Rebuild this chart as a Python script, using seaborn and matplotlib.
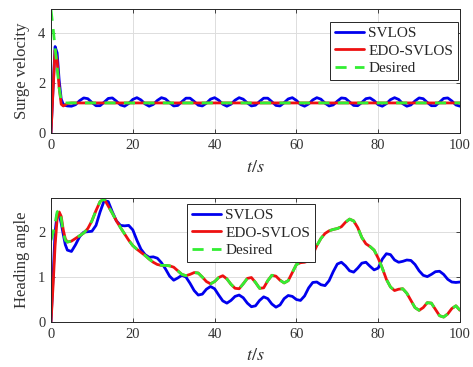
import numpy as np
import pandas as pd
import matplotlib
matplotlib.use("Agg")
import matplotlib.pyplot as plt
import seaborn as sns

# ---------------- data ----------------
t = [0, 0.5, 1, 1.5, 2, 2.5, 3, 3.5, 4] + list(range(5, 101))

# Surge velocity (top panel)
surge_svlos = [0.0, 1.8, 3.45, 3.2, 2.1, 1.35, 1.15, 1.1, 1.08,
               1.07, 1.13, 1.29, 1.40, 1.37, 1.22, 1.09, 1.09, 1.23, 1.38,
               1.40, 1.27, 1.12, 1.07, 1.18, 1.34, 1.41, 1.32, 1.16, 1.07,
               1.14, 1.30, 1.41, 1.36, 1.21, 1.08, 1.10, 1.25, 1.39, 1.39,
               1.26, 1.11, 1.08, 1.19, 1.35, 1.41, 1.31, 1.15, 1.07, 1.15,
               1.31, 1.41, 1.35, 1.20, 1.08, 1.11, 1.26, 1.39, 1.39, 1.25,
               1.10, 1.08, 1.21, 1.36, 1.41, 1.30, 1.14, 1.07, 1.16, 1.32,
               1.41, 1.35, 1.19, 1.08, 1.12, 1.27, 1.40, 1.38, 1.24, 1.10,
               1.09, 1.22, 1.37, 1.40, 1.29, 1.13, 1.07, 1.17, 1.33, 1.41,
               1.34, 1.17, 1.07, 1.12, 1.28, 1.40, 1.37, 1.22, 1.09, 1.09,
               1.23, 1.38, 1.40, 1.28, 1.12, 1.07]
surge_edo = [0.0, 1.7, 3.3, 2.9, 1.8, 1.15, 1.08, 1.12, 1.18] + [1.2] * 96
surge_des = [4.92, 4.2, 3.4, 2.6, 1.8, 1.25, 1.2, 1.2, 1.2] + [1.2] * 96

# Heading angle (bottom panel)
head_des = [1.82, 1.98, 2.2, 2.45, 2.5, 2.3, 2.0, 1.82, 1.78,
            1.80, 1.86, 1.92, 1.98, 2.08, 2.25, 2.48, 2.68, 2.74, 2.58,
            2.42, 2.25, 2.10, 1.96, 1.82, 1.70, 1.62, 1.55, 1.48, 1.40,
            1.33, 1.28, 1.26, 1.26, 1.25, 1.22, 1.14, 1.06, 1.03, 1.06,
            1.10, 1.09, 1.00, 0.90, 0.85, 0.90, 0.99, 1.03, 0.96, 0.84,
            0.75, 0.74, 0.85, 0.97, 0.99, 0.88, 0.75, 0.76, 0.92, 1.04,
            1.02, 0.93, 0.87, 0.92, 1.10, 1.28, 1.32, 1.33, 1.36, 1.50,
            1.70, 1.86, 1.97, 2.03, 2.06, 2.08, 2.12, 2.22, 2.29, 2.25,
            2.10, 1.88, 1.74, 1.68, 1.60, 1.42, 1.20, 0.95, 0.78, 0.70,
            0.73, 0.74, 0.64, 0.48, 0.32, 0.26, 0.32, 0.43, 0.42, 0.28,
            0.14, 0.11, 0.18, 0.30, 0.36, 0.26]
head_edo = [0.0, 0.8, 1.7, 2.3, 2.45, 2.35, 2.05, 1.85, 1.78] + head_des[9:]
head_svlos = [0.0, 1.0, 2.0, 2.4, 2.38, 2.2, 1.95, 1.72, 1.6,
              1.57, 1.72, 1.90, 2.00, 2.01, 2.02, 2.15, 2.45, 2.70, 2.68,
              2.45, 2.25, 2.15, 2.14, 2.15, 2.05, 1.82, 1.62, 1.50, 1.44,
              1.45, 1.42, 1.32, 1.18, 1.02, 0.93, 0.98, 1.04, 1.00, 0.86,
              0.70, 0.60, 0.62, 0.73, 0.79, 0.74, 0.60, 0.47, 0.42, 0.48,
              0.57, 0.60, 0.54, 0.42, 0.34, 0.36, 0.48, 0.56, 0.52, 0.40,
              0.33, 0.38, 0.52, 0.59, 0.57, 0.50, 0.48, 0.58, 0.76, 0.88,
              0.89, 0.83, 0.81, 0.92, 1.12, 1.29, 1.33, 1.25, 1.14, 1.11,
              1.20, 1.31, 1.33, 1.24, 1.16, 1.20, 1.40, 1.52, 1.50, 1.38,
              1.33, 1.35, 1.38, 1.37, 1.28, 1.14, 1.04, 1.01, 1.06, 1.12,
              1.13, 1.06, 0.95, 0.89, 0.88, 0.89]

series_names = ["SVLOS", "EDO-SVLOS", "Desired"]
xticks = [0, 20, 40, 60, 80, 100]

# ---------------- style ----------------
sns.set_style("ticks")
plt.rcParams["font.family"] = ["Liberation Serif", "DejaVu Serif"]
plt.rcParams["mathtext.fontset"] = "stix"

W, H = 473, 367
fig = plt.figure(figsize=(W / 100, H / 100), dpi=100)

def px_axes(l, r, top, bot):
    return fig.add_axes([l / W, 1 - bot / H, (r - l) / W, (bot - top) / H])

ax1 = px_axes(51, 460, 9, 133)
ax2 = px_axes(51, 460, 198, 322)

colors = {"SVLOS": "#0000ee", "EDO-SVLOS": "#ee1111", "Desired": "#33ee33"}

def draw(ax, ys):
    for name, y in zip(series_names, ys):
        if name == "Desired":
            sns.lineplot(x=t, y=y, ax=ax, color=colors[name], lw=2.0,
                         linestyle=(0, (4, 3)), label=name)
        else:
            sns.lineplot(x=t, y=y, ax=ax, color=colors[name], lw=2.0,
                         label=name)

draw(ax1, [surge_svlos, surge_edo, surge_des])
draw(ax2, [head_svlos, head_edo, head_des])

for ax in (ax1, ax2):
    ax.set_xlim(0, 100)
    ax.set_xticks(xticks)
    ax.grid(True, color="#dddddd", lw=0.7)
    ax.set_axisbelow(True)
    for s in ax.spines.values():
        s.set_visible(True)
        s.set_color("#262626")
        s.set_linewidth(0.7)
    ax.tick_params(direction="in", top=True, right=True, length=3,
                   width=0.6, labelsize=10.5, colors="#262626",
                   labelcolor="#333333", pad=4)
    ax.set_xlabel(r"$t/s$", fontsize=13, color="#333333", labelpad=5)

ax1.set_ylim(0, 4.95)
ax1.set_yticks([0, 2, 4])
ax1.set_ylabel("Surge velocity", fontsize=12, color="#333333", labelpad=6)
ax2.set_ylim(0, 2.76)
ax2.set_yticks([0, 1, 2])
ax2.set_ylabel("Heading angle", fontsize=12, color="#333333", labelpad=6)

leg_kw = dict(fontsize=11, frameon=True, fancybox=False, framealpha=1,
              edgecolor="#262626", handlelength=1.9, handletextpad=0.3,
              labelspacing=0.25, borderpad=0.3, borderaxespad=0)
l1 = ax1.legend(loc="upper right", bbox_to_anchor=(0.995, 0.895), **leg_kw)
l2 = ax2.legend(loc="upper left", bbox_to_anchor=(0.333, 0.952), **leg_kw)
for lg in (l1, l2):
    lg.get_frame().set_linewidth(0.7)

fig.savefig("out.png", dpi=100)
